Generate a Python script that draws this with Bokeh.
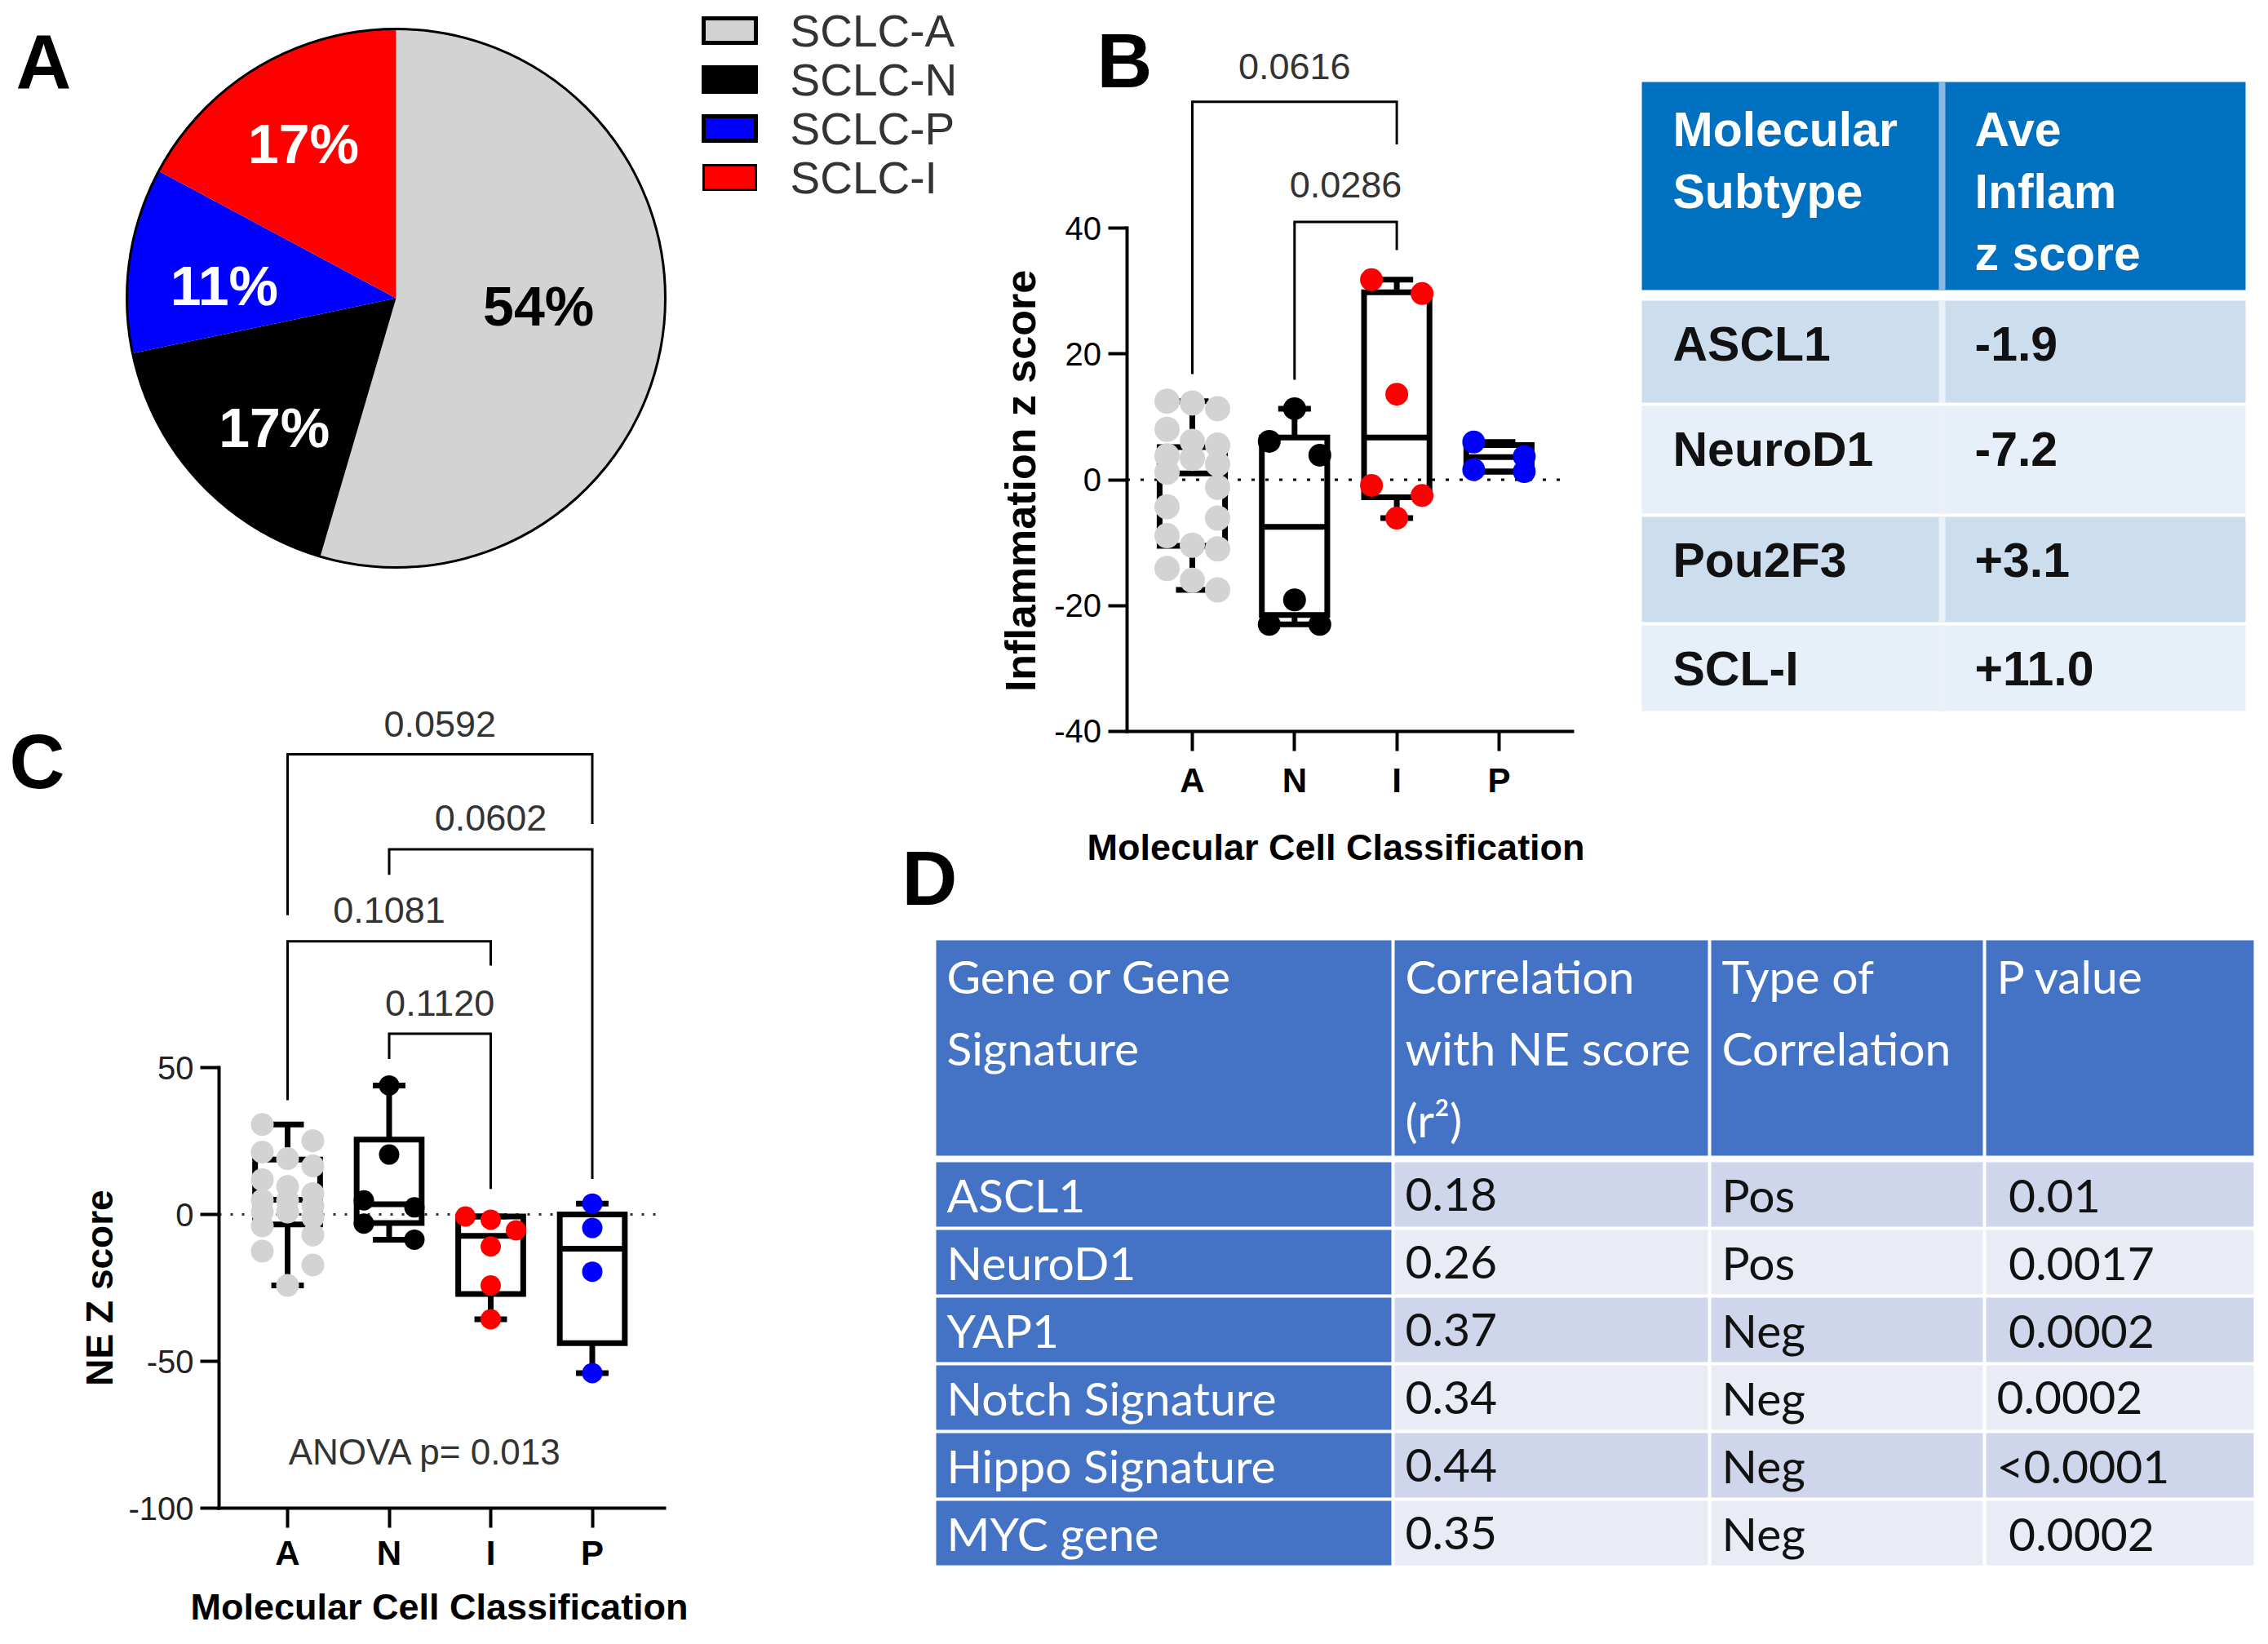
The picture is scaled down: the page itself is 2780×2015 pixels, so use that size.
import math
from bokeh.plotting import figure
from bokeh.models import Range1d, FixedTicker, LinearAxis
from bokeh.embed import file_html
from bokeh.resources import INLINE
from bokeh.core.properties import value

# ======================= DATA =======================
subtype_names = ["SCLC-A", "SCLC-N", "SCLC-P", "SCLC-I"]
subtype_pct = [54, 17, 11, 17]

groups = ["A", "N", "I", "P"]

# Panel B : Inflammation z score
inflam_A = [12.5, 12.2, 11.3, 8.0, 6.1, 5.5, 3.8, 3.4, 2.5, 1.2, -1.2, -4.3,
            -6.1, -8.9, -10.4, -11.0, -14.1, -16.0, -17.5]
inflam_N = [11.3, 6.1, 3.9, -19.1, -23.0, -23.0]
inflam_I = [31.8, 29.6, 13.6, -0.9, -2.5, -6.1]
inflam_P = [6.0, 3.7, 1.6, 1.3]
inflam_q1 = [-10.5, -21.5, -2.8, 1.3]
inflam_med = [1.0, -7.5, 6.7, 3.6]
inflam_q3 = [5.2, 6.7, 29.8, 5.5]
inflam_lo = [-17.5, -23.0, -6.1, 1.3]
inflam_hi = [12.5, 11.3, 31.8, 6.0]
inflam_pairs = [("A", "I"), ("N", "I")]
inflam_pvals = ["0.0616", "0.0286"]
inflam_yticks = [-40, -20, 0, 20, 40]

# Panel C : NE Z score
ne_A = [30.6, 25.1, 21.2, 19.0, 16.5, 11.8, 9.5, 7.1, 4.8, 4.8, 3.0, 0.8,
        0.8, -1.0, -3.9, -7.0, -12.5, -17.2, -24.2]
ne_N = [43.9, 20.4, 4.8, 2.4, -3.1, -8.6]
ne_I = [-0.7, -1.8, -5.4, -10.9, -24.2, -35.7]
ne_P = [3.7, -4.6, -19.5, -54.0]
ne_q1 = [-3.4, -2.9, -27.1, -43.8]
ne_med = [5.0, 3.5, -7.3, -11.7]
ne_q3 = [18.7, 25.5, -0.7, 0.0]
ne_lo = [-24.2, -8.6, -35.7, -54.0]
ne_hi = [30.6, 43.9, -0.7, 3.7]
ne_pairs = [("A", "P"), ("N", "P"), ("A", "I"), ("N", "I")]
ne_pvals = ["0.0592", "0.0602", "0.1081", "0.1120"]
ne_yticks = [-100, -50, 0, 50]
anova_text = "ANOVA p= 0.013"

# Table in panel B
inflam_tab_header = ["Molecular\nSubtype", "Ave\nInflam\nz score"]
inflam_tab_subtype = ["ASCL1", "NeuroD1", "Pou2F3", "SCL-I"]
inflam_tab_score = ["-1.9", "-7.2", "+3.1", "+11.0"]

# Table D
corr_header = ["Gene or Gene\nSignature", "Correlation\nwith NE score\n(r\u00b2)",
               "Type of\nCorrelation", "P value"]
corr_gene = ["ASCL1", "NeuroD1", "YAP1", "Notch Signature", "Hippo Signature", "MYC gene"]
corr_r2 = ["0.18", "0.26", "0.37", "0.34", "0.44", "0.35"]
corr_type = ["Pos", "Pos", "Neg", "Neg", "Neg", "Neg"]
corr_p = ["\u00a00.01", "\u00a00.0017", "\u00a00.0002", "0.0002", "<0.0001", "\u00a00.0002"]

# ======================= STYLE / LAYOUT =======================
FONT = "Liberation Sans"
F = value(FONT)
DF = value("Lato")
GRAY, BLACK, RED, BLUE = "#D3D3D3", "#000000", "#FF0000", "#0000FF"
pie_colors = [GRAY, BLACK, BLUE, RED]
pie_text_colors = ["black", "white", "white", "white"]
pie_label_r = [0.53, 0.66, 0.64, 0.67]
pie_label_turn = [-5.0, -4.0, -4.0, 0.0]     # degrees, label placement nudge
group_colors = [GRAY, BLACK, RED, BLUE]
BASE_SHIFT = {"Liberation Sans": 0.235, "Lato": 0.33}   # baseline correction / font size

W, H = 2764, 1999          # canvas size (page px)
X0, Y0 = 8, 8              # page margin


def yy(o):
    """page-pixel row (from top) -> base y coordinate (up)"""
    return (Y0 + H) - o


p = figure(width=W, height=H, x_range=Range1d(X0, X0 + W), y_range=Range1d(0, H),
           x_axis_type=None, y_axis_type=None, min_border=0,
           output_backend="svg", toolbar_location=None)
p.outline_line_color = None
p.background_fill_color = "white"
p.border_fill_color = "white"
p.grid.visible = False


def txt(xs, ys, texts, size, color="black", bold=False, align="left",
        baseline="alphabetic", font="Liberation Sans", angle=0.0, unit=1.0, **kw):
    px = float(size.replace("px", ""))
    off = BASE_SHIFT[font] * px / unit if baseline == "alphabetic" else 0.0
    if angle == 0.0:
        ys = [y + off for y in ys]
    else:
        xs = [x - off * 0.75 for x in xs]
    p.text(x=xs, y=ys, text=texts, text_font=value(font), text_font_size=size,
           text_font_style="bold" if bold else "normal", text_color=color,
           text_align=align, text_baseline=baseline, angle=angle, **kw)


def letter(t, x, ybase):
    txt([x], [yy(ybase)], [t], "94px", bold=True, align="center")


# ======================= PANEL A (pie) =======================
cx, cy, R = 493, yy(373), 330
tot = float(sum(subtype_pct))
starts, ends, lx, ly = [], [], [], []
cum = 0.0
for k, v in enumerate(subtype_pct):
    a0 = math.pi / 2 - 2 * math.pi * cum / tot
    cum += v
    a1 = math.pi / 2 - 2 * math.pi * cum / tot
    starts.append(a0)
    ends.append(a1)
    am = (a0 + a1) / 2 - math.radians(pie_label_turn[k])
    lx.append(cx + pie_label_r[k] * R * math.cos(am))
    ly.append(cy + pie_label_r[k] * R * math.sin(am))
p.wedge(x=cx, y=cy, radius=R, start_angle=starts, end_angle=ends, direction="clock",
        fill_color=pie_colors, line_color=None)
p.circle(x=[cx], y=[cy], radius=R, fill_color=None, line_color="black", line_width=3)
txt(lx, ly, [f"{v}%" for v in subtype_pct], "68px", color=pie_text_colors, bold=True,
    align="center", baseline="middle")
leg_y = [yy(45 + 60 * i) for i in range(len(subtype_names))]
p.rect(x=[902] * 4, y=leg_y, width=64, height=30, fill_color=pie_colors,
       line_color="black", line_width=[5, 5, 5, 3], line_join="miter")
txt([976] * 4, leg_y, subtype_names, "55px", color="#333333", baseline="middle")
letter("A", 61, 106)


# ======================= box-plot helpers =======================
def swarm(vals, ppu, diam, step):
    order = sorted(range(len(vals)), key=lambda i: -vals[i])
    rows_ = []
    for i in order:
        if rows_ and len(rows_[-1]) < 3 and (vals[rows_[-1][0]] - vals[i]) * ppu < diam:
            rows_[-1].append(i)
        else:
            rows_.append([i])
    off = [0.0] * len(vals)
    for r in rows_:
        slots = {1: [0], 2: [-1, 1], 3: [-1, 0, 1]}[len(r)]
        for i, s in zip(r, slots):
            off[i] = s * step
    return off


def box_panel(name, xa_px, y0_px, ppc, ppu, yticks, xaxis_end, data, q1, med, q3, lo, hi,
              diam, gray_diam, spine_px, dash, dash_color, tick_color, xlab_standoff):
    xr = name + "x"
    yr = name + "y"
    p.extra_x_ranges[xr] = Range1d((X0 - xa_px) / ppc, (X0 + W - xa_px) / ppc)
    p.extra_y_ranges[yr] = Range1d((y0_px - (Y0 + H)) / ppu, (y0_px - Y0) / ppu)
    rn = dict(x_range_name=xr, y_range_name=yr)
    x_spine = (spine_px - xa_px) / ppc
    ymin = yticks[0]

    # dotted zero line
    p.line(x=[x_spine, xaxis_end - 0.04], y=[0, 0], line_color=dash_color, line_width=3,
           line_dash=dash, **rn)
    # boxes
    hw, cw, lw = 0.32, 0.16, 7
    for k in range(len(groups)):
        p.segment(x0=[k, k], y0=[q3[k], q1[k]], x1=[k, k], y1=[hi[k], lo[k]],
                  line_color="black", line_width=lw, **rn)
        p.segment(x0=[k - cw, k - cw], y0=[hi[k], lo[k]], x1=[k + cw, k + cw],
                  y1=[hi[k], lo[k]], line_color="black", line_width=lw, **rn)
        p.quad(left=[k - hw], right=[k + hw], bottom=[q1[k]], top=[q3[k]],
               fill_color=None, line_color="black", line_width=lw, line_join="miter", **rn)
        p.segment(x0=[k - hw], y0=[med[k]], x1=[k + hw], y1=[med[k]],
                  line_color="black", line_width=lw, **rn)
    for k, vals in enumerate(data):
        d = gray_diam if k == 0 else diam
        offs = swarm(vals, ppu, d, 31.0 / ppc)
        p.scatter(x=[k + o for o in offs], y=vals, size=d, marker="circle",
                  fill_color=group_colors[k], line_color=None, **rn)

    # axes (placed at fixed locations of this panel's own scales)
    yax = LinearAxis(fixed_location=x_spine, bounds=(yticks[0], yticks[-1]),
                     ticker=FixedTicker(ticks=yticks),
                     major_label_overrides={t: str(t) for t in yticks}, **rn)
    xax = LinearAxis(fixed_location=ymin, bounds=(x_spine, xaxis_end),
                     ticker=FixedTicker(ticks=list(range(len(groups)))),
                     major_label_overrides={i: g for i, g in enumerate(groups)}, **rn)
    for ax in (xax, yax):
        ax.axis_line_width = 4
        ax.axis_line_cap = "square"
        ax.major_tick_line_width = 4
        ax.major_tick_in = 0
        ax.minor_tick_line_color = None
        ax.major_label_text_font = FONT
    yax.major_tick_out = 23
    yax.major_label_text_font_size = "40px"
    yax.major_label_text_color = tick_color
    yax.major_label_standoff = 8
    xax.major_tick_out = 24
    xax.major_label_text_font_size = "42px"
    xax.major_label_text_font_style = "bold"
    xax.major_label_text_color = "black"
    xax.major_label_standoff = xlab_standoff
    p.add_layout(yax, "left")
    p.add_layout(xax, "below")
    return rn, ppu


def brackets(rn, ppu, pairs, labels, tops, lefts, rights, text_y):
    xs, ys, tx = [], [], []
    for (a, b), t, le, re in zip(pairs, tops, lefts, rights):
        xa, xb = groups.index(a), groups.index(b)
        xs.append([xa, xa, xb, xb])
        ys.append([le, t, t, re])
        tx.append((xa + xb) / 2)
    p.multi_line(xs, ys, line_color="black", line_width=3, line_join="miter", **rn)
    txt(tx, text_y, labels, "45px", color="#333333", align="center", unit=ppu, **rn)


# ======================= PANEL B =======================
rnB, ppuB = box_panel("b", 1469, 595.5, 125.3, 7.71, inflam_yticks, 3.72,
                      [inflam_A, inflam_N, inflam_I, inflam_P], inflam_q1, inflam_med,
                      inflam_q3, inflam_lo, inflam_hi, 28, 31, 1388.5, "4 13", "black",
                      "black", 13)
brackets(rnB, ppuB, inflam_pairs, inflam_pvals, [60.1, 41.0], [16.8, 15.9], [53.3, 36.5],
         [64.3, 45.5])
txt([1268], [yy(597)], ["Inflammation z score"], "52px", bold=True, align="center",
    angle=math.pi / 2)
txt([1645], [yy(1057)], ["Molecular Cell Classification"], "45px", bold=True,
    align="center")
letter("B", 1386, 104)

# ======================= TABLE in B =======================
tb_cols = [(2020, 2384), (2392, 2760)]
tb_head = (108, 363)
tb_rows = [(376, 501), (505, 637), (641, 770), (774, 879)]
tb_row_colors = ["#CCDEEE", "#E7EFF8"]
p.quad(left=[tb_cols[0][0]], right=[tb_cols[1][1]], top=[yy(tb_head[0])],
       bottom=[yy(tb_head[1])], fill_color="#0070C0", line_color=None)
p.quad(left=[tb_cols[0][1]], right=[tb_cols[1][0]], top=[yy(tb_head[0])],
       bottom=[yy(tb_head[1])], fill_color="#8AB8E2", line_color=None)
for r, (t, b) in enumerate(tb_rows):
    p.quad(left=[tb_cols[0][0]], right=[tb_cols[1][1]], top=[yy(t)], bottom=[yy(b)],
           fill_color=tb_row_colors[r % 2], line_color=None)
    p.quad(left=[tb_cols[0][1]], right=[tb_cols[1][0]], top=[yy(t)], bottom=[yy(b)],
           fill_color="#EAF1F8", line_color=None)
tb_tx = [2058, 2428]
hx, hy, ht = [], [], []
for c, h in enumerate(inflam_tab_header):
    for j, line in enumerate(h.split("\n")):
        hx.append(tb_tx[c]); hy.append(yy(180 + 76 * j)); ht.append(line)
txt(hx, hy, ht, "59px", color="white", bold=True)
rx, ry, rt = [], [], []
for r, (t, b) in enumerate(tb_rows):
    for c, cell in enumerate([inflam_tab_subtype[r], inflam_tab_score[r]]):
        rx.append(tb_tx[c]); ry.append(yy(t + 67)); rt.append(cell)
txt(rx, ry, rt, "59px", color="#111111", bold=True)

# ======================= PANEL C =======================
rnC, ppuC = box_panel("c", 360, 1496, 124.5, 3.6, ne_yticks, 3.71,
                      [ne_A, ne_N, ne_I, ne_P], ne_q1, ne_med, ne_q3, ne_lo, ne_hi,
                      25, 28, 276, "3 11", "#333333", "#222222", 7)
brackets(rnC, ppuC, ne_pairs, ne_pvals, [156.7, 124.3, 93.0, 61.5],
         [101.9, 115.6, 38.9, 52.9], [132.9, 12.1, 84.7, 8.7], [164.0, 132.2, 100.8, 68.9])
txt([1.357], [-83.6], [anova_text], "44px", color="#333333", align="center",
    unit=ppuC, **rnC)
txt([138], [yy(1586)], ["NE Z score"], "46px", bold=True, align="center",
    angle=math.pi / 2)
txt([546], [yy(1988)], ["Molecular Cell Classification"], "45px", bold=True,
    align="center")
letter("C", 53, 963)

# ======================= TABLE D =======================
letter("D", 1147, 1106)
d_cols = [(1155, 1713), (1717, 2101), (2105, 2438), (2442, 2770)]
d_head = (1160, 1424)
d_rows = [(1432 + 83 * i, 1432 + 83 * i + 79) for i in range(len(corr_gene))]
d_row_colors = ["#CFD5EA", "#E9EBF5"]
for c, (l, r_) in enumerate(d_cols):
    p.quad(left=[l], right=[r_], top=[yy(d_head[0])], bottom=[yy(d_head[1])],
           fill_color="#4472C4", line_color=None)
    for i, (t, b) in enumerate(d_rows):
        p.quad(left=[l], right=[r_], top=[yy(t)], bottom=[yy(b)],
               fill_color="#4472C4" if c == 0 else d_row_colors[i % 2], line_color=None)
hx, hy, ht = [], [], []
for c, h in enumerate(corr_header):
    for j, line in enumerate(h.split("\n")):
        hx.append(d_cols[c][0] + 13); hy.append(yy(1222 + 88 * j)); ht.append(line)
txt(hx, hy, ht, "57px", color="white", font="Lato")
for c, colvals in enumerate([corr_gene, corr_r2, corr_type, corr_p]):
    txt([d_cols[c][0] + 13] * len(colvals), [yy(t + 58) for (t, b) in d_rows], colvals,
        "57px", color="white" if c == 0 else "#111111", font="Lato")

open("out.html", "w").write(file_html(p, INLINE))
